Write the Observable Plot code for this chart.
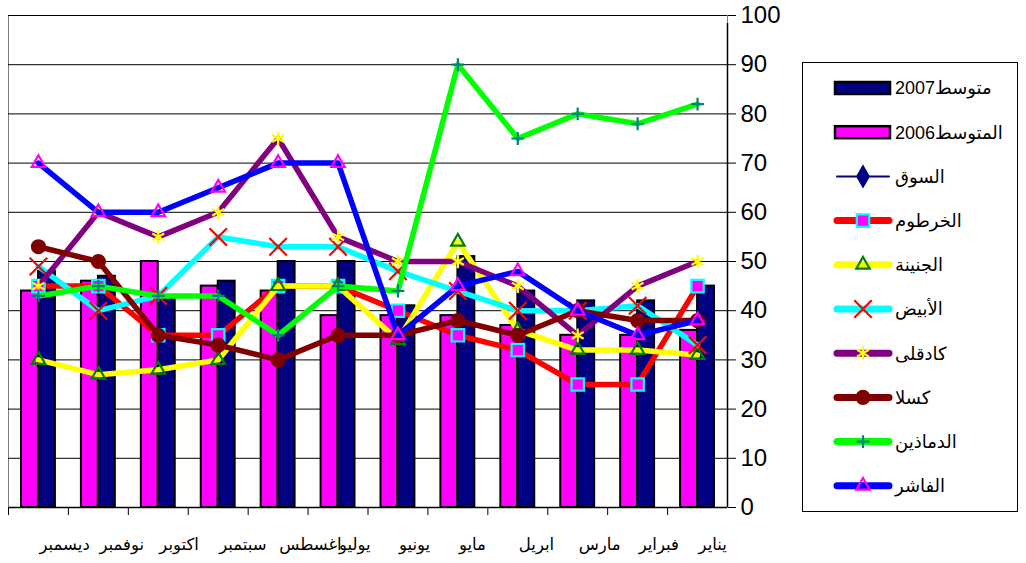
<!DOCTYPE html>
<html><head><meta charset="utf-8">
<script src="https://cdn.jsdelivr.net/npm/d3@7"></script>
<script src="https://cdn.jsdelivr.net/npm/@observablehq/plot@0.6"></script>
<style>
body{margin:0;background:#fff;font-family:"Liberation Sans",Arial,"DejaVu Sans",sans-serif;}
#wrap{position:relative;width:1026px;height:563px;overflow:hidden;}
#legend{position:absolute;left:802px;top:62px;}
</style></head><body>
<div id="wrap"><div id="chart"></div><div id="legend"></div></div>
<script>
// Categories (January .. December)
const months = ["يناير","فبراير","مارس","ابريل","مايو","يونيو","يوليو","اغسطس","سبتمبر","اكتوبر","نوفمبر","ديسمبر"];
// Bar series
const avg2007 = [45, 42, 42, 44, 51, 41, 50, 50, 46, 43, 47, 48];
const avg2006 = [36, 35, 35, 37, 39, 39, 39, 44, 45, 50, 46, 44];
// Line series
const khartoum  = [45, 25, 25, 32, 35, 40, 45, 45, 35, 35, 45, 45];
const geneina   = [31, 32, 32, 36, 54, 34, 45, 45, 30, 28, 27, 30];
const obeid     = [33, 41, 40, 40, 44, 48, 53, 53, 55, 43, 40, 49];
const kadugli   = [50, 45, 35, 45, 50, 50, 55, 75, 60, 55, 60, 45];
const kassala   = [38, 38, 40, 35, 38, 35, 35, 30, 33, 35, 50, 53];
const damazin   = [82, 78, 80, 75, 90, 44, 45, 35, 43, 43, 45, 43];
const fasher    = [38, 35, 40, 48, 45, 35, 70, 70, 65, 60, 60, 70];
// Tick labels
const yTicks = [0, 10, 20, 30, 40, 50, 60, 70, 80, 90, 100];

const toRows = vals => months.map((m, i) => ({month: m, value: vals[i]}));

const series = [
  {name: "الخرطوم", values: khartoum, stroke: "#FF0000", symbol: "square", mstroke: "#00FFFF", mfill: "#FF00FF", r: 7},
  {name: "الجنينة", values: geneina, stroke: "#FFFF00", symbol: "triangle", mstroke: "#008000", mfill: "none", r: 5},
  {name: "الأبيض", values: obeid, stroke: "#00FFFF", symbol: "times", mstroke: "#FF0000", mfill: "none", r: 8},
  {name: "كادقلى", values: kadugli, stroke: "#800080", symbol: "asterisk", mstroke: "#FFFF00", mfill: "none", r: 6.5},
  {name: "كسلا", values: kassala, stroke: "#800000", symbol: "circle", mstroke: "#800000", mfill: "#800000", r: 6.5},
  {name: "الدماذين", values: damazin, stroke: "#00FF00", symbol: "plus", mstroke: "#008080", mfill: "none", r: 4.2},
  {name: "الفاشر", values: fasher, stroke: "#0000FF", symbol: "triangle", mstroke: "#FF00FF", mfill: "none", r: 5}
];

const marks = [
  Plot.frame({stroke: "#808080"}),
  Plot.ruleY(yTicks, {stroke: "black", strokeWidth: 1}),
  Plot.barY(toRows(avg2006), {x: "month", y: "value", fill: "#FF00FF", stroke: "black", strokeWidth: 2, insetLeft: 13, insetRight: 30}),
  Plot.barY(toRows(avg2007), {x: "month", y: "value", fill: "#000080", stroke: "black", strokeWidth: 2, insetLeft: 30, insetRight: 13})
];
for (const s of series) {
  const rows = toRows(s.values);
  marks.push(Plot.line(rows, {x: "month", y: "value", stroke: s.stroke, strokeWidth: 5.5, strokeLinejoin: "round", strokeLinecap: "round"}));
  marks.push(Plot.dot(rows, {x: "month", y: "value", symbol: () => s.symbol, r: s.r, stroke: s.mstroke, fill: s.mfill, strokeWidth: 2.2}));
}
// category boundary ticks, right axis line, month labels
const half = 719 / 12 / 2;
marks.push(Plot.ruleX(months, {x: d => d, y1: () => 0, y2: () => 0, insetBottom: -8, dx: -half, stroke: "black", strokeWidth: 1}));
marks.push(Plot.ruleX([months[0]], {x: d => d, y1: () => 0, y2: () => 100, insetBottom: -8, dx: half, stroke: "black", strokeWidth: 1.5}));
marks.push(Plot.ruleY([0], {stroke: "black", strokeWidth: 1.5}));
marks.push(Plot.text(months, {x: d => d, frameAnchor: "bottom", dy: 42, dx: 1, text: d => d, textAnchor: "start", fontSize: 16.5, fill: "black"}));

const chart = Plot.plot({
  width: 1026, height: 563,
  marginLeft: 8, marginRight: 299, marginTop: 15, marginBottom: 56,
  style: {fontFamily: "'Liberation Sans', Arial, 'DejaVu Sans', sans-serif", fontSize: "24px", color: "black", background: "white", overflow: "visible"},
  x: {type: "band", domain: months, reverse: true, padding: 0, round: false, axis: null},
  y: {domain: [0, 100], axis: "right", ticks: yTicks, tickSize: 8, tickPadding: 5, tickFormat: d => String(d), label: null},
  marks
});
document.getElementById("chart").appendChild(chart);

// Legend
const symMap = {diamond: d3.symbolDiamond, square: d3.symbolSquare, triangle: d3.symbolTriangle, times: d3.symbolTimes, asterisk: d3.symbolAsterisk, circle: d3.symbolCircle, plus: d3.symbolPlus};
const legendItems = [
  {name: "متوسط2007", type: "bar", fill: "#000080"},
  {name: "المتوسط2006", type: "bar", fill: "#FF00FF"},
  {name: "السوق", type: "line", stroke: "#000080", width: 2, symbol: "diamond", mstroke: "#000080", mfill: "#000080", r: 6}
].concat(series.map(s => ({name: s.name, type: "line", stroke: s.stroke, width: 7, symbol: s.symbol, mstroke: s.mstroke, mfill: s.mfill, r: s.r})));

const lw = 216, lh = 450;
const lsvg = d3.select("#legend").append("svg").attr("width", lw).attr("height", lh)
  .style("font-family", "'Liberation Sans', Arial, 'DejaVu Sans', sans-serif");
lsvg.append("rect").attr("x", 0.5).attr("y", 0.5).attr("width", lw - 1).attr("height", lh - 1).attr("fill", "white").attr("stroke", "black");
legendItems.forEach((it, i) => {
  const cy = 26 + i * 44.2;
  const g = lsvg.append("g");
  if (it.type === "bar") {
    g.append("rect").attr("x", 33).attr("y", cy - 6).attr("width", 55).attr("height", 12).attr("fill", it.fill).attr("stroke", "black").attr("stroke-width", 2.5);
  } else {
    g.append("line").attr("x1", 35).attr("x2", 87).attr("y1", cy).attr("y2", cy).attr("stroke", it.stroke).attr("stroke-width", it.width).attr("stroke-linecap", "round");
    g.append("path").attr("transform", `translate(61,${cy})`).attr("d", d3.symbol(symMap[it.symbol], Math.PI * it.r * it.r)()).attr("fill", it.mfill).attr("stroke", it.mstroke).attr("stroke-width", 2.2);
  }
  g.append("text").attr("x", 93).attr("y", cy).attr("dy", "0.35em").attr("font-size", 18).attr("fill", "black").text(it.name);
});
</script>
</body></html>
